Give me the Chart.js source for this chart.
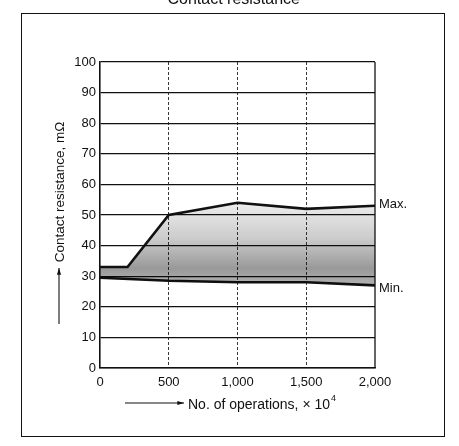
<!DOCTYPE html>
<html>
<head>
<meta charset="utf-8">
<script src="https://cdn.jsdelivr.net/npm/chart.js@4/dist/chart.umd.min.js"></script>
<style>
  html, body { margin: 0; padding: 0; background: #fff; }
  canvas { display: block; }
</style>
</head>
<body>
<canvas id="resistance-chart" width="459" height="446"></canvas>
<script>
// Contact resistance vs. number of operations (x 10^4)
const maxOperations = [0, 200, 500, 1000, 1500, 2000];
const maxResistance = [33, 33, 50, 54, 52, 53];
const minOperations = [0, 500, 1000, 1500, 2000];
const minResistance = [29.5, 28.5, 28, 28, 27];
const seriesLabels = ['Max.', 'Min.'];
const yTicks = [0, 10, 20, 30, 40, 50, 60, 70, 80, 90, 100];
const xTicks = [0, 500, 1000, 1500, 2000];

const FONT = '"Liberation Sans", Arial, Helvetica, sans-serif';
const INK = '#111';

function toPoints(xs, ys) {
    return xs.map((x, i) => ({ x: x, y: ys[i] }));
}

// stippled band between the two curves, darker towards the bottom
function bandFill(context) {
    const chart = context.chart;
    if (!chart.chartArea) return 'rgba(0,0,0,0.25)';
    const y = chart.scales.y;
    const g = chart.ctx.createLinearGradient(0, y.getPixelForValue(55), 0, y.getPixelForValue(27));
    g.addColorStop(0, 'rgba(0,0,0,0.06)');
    g.addColorStop(0.45, 'rgba(0,0,0,0.20)');
    g.addColorStop(0.8, 'rgba(0,0,0,0.40)');
    g.addColorStop(1, 'rgba(0,0,0,0.30)');
    return g;
}

function arrow(ctx, x1, y1, x2, y2) {
    const a = Math.atan2(y2 - y1, x2 - x1);
    ctx.beginPath();
    ctx.moveTo(x1, y1);
    ctx.lineTo(x2, y2);
    ctx.stroke();
    ctx.beginPath();
    ctx.moveTo(x2, y2);
    ctx.lineTo(x2 - 7 * Math.cos(a - 0.3), y2 - 7 * Math.sin(a - 0.3));
    ctx.lineTo(x2 - 7 * Math.cos(a + 0.3), y2 - 7 * Math.sin(a + 0.3));
    ctx.closePath();
    ctx.fill();
}

const decorations = {
    id: 'decorations',
    afterDraw(chart) {
        const ctx = chart.ctx;
        const area = chart.chartArea;
        ctx.save();
        ctx.strokeStyle = INK;
        ctx.fillStyle = INK;

        // outer frame of the figure
        ctx.lineWidth = 1;
        ctx.strokeRect(21.5, 13.5, 423, 423);

        // clipped caption at the very top
        ctx.font = '16px ' + FONT;
        ctx.textAlign = 'right';
        ctx.textBaseline = 'alphabetic';
        ctx.fillText('Contact resistance', 300, 4);

        // right edge of plot
        ctx.lineWidth = 1.3;
        ctx.beginPath();
        ctx.moveTo(area.right, area.top);
        ctx.lineTo(area.right, area.bottom);
        ctx.stroke();

        // y axis title with arrow
        ctx.save();
        ctx.translate(60, 192);
        ctx.rotate(-Math.PI / 2);
        ctx.font = '13.5px ' + FONT;
        ctx.textAlign = 'center';
        ctx.textBaseline = 'middle';
        ctx.fillText('Contact resistance, m\u03a9', 0, 0);
        ctx.restore();
        ctx.lineWidth = 1.1;
        arrow(ctx, 59, 324, 59, 268);

        // x axis title with arrow
        arrow(ctx, 125, 403, 184, 403);
        ctx.font = '14px ' + FONT;
        ctx.textAlign = 'left';
        ctx.textBaseline = 'middle';
        const xTitle = 'No. of operations, \u00d7 10';
        ctx.fillText(xTitle, 188, 405);
        const w = ctx.measureText(xTitle).width;
        ctx.font = '9px ' + FONT;
        ctx.fillText('4', 188 + w + 1, 399);

        // series labels at the line ends
        ctx.font = '13px ' + FONT;
        ctx.textBaseline = 'middle';
        chart.data.datasets.forEach((ds, i) => {
            const pts = chart.getDatasetMeta(i).data;
            const last = pts[pts.length - 1];
            ctx.fillText(ds.label, last.x + 4, last.y + (i === 0 ? -1 : 3));
        });
        ctx.restore();
    }
};

new Chart(document.getElementById('resistance-chart'), {
    type: 'line',
    data: {
        datasets: [{
            label: seriesLabels[0],
            data: toPoints(maxOperations, maxResistance),
            borderColor: INK,
            borderWidth: 2.6,
            pointRadius: 0,
            tension: 0,
            fill: { target: 1 },
            backgroundColor: bandFill
        }, {
            label: seriesLabels[1],
            data: toPoints(minOperations, minResistance),
            borderColor: INK,
            borderWidth: 2.6,
            pointRadius: 0,
            tension: 0,
            fill: false
        }]
    },
    options: {
        responsive: false,
        animation: false,
        locale: 'en-US',
        layout: { padding: { left: 0, right: 84, top: 62, bottom: 0 } },
        plugins: {
            legend: { display: false },
            tooltip: { enabled: false }
        },
        scales: {
            x: {
                type: 'linear',
                min: 0,
                max: 2000,
                afterFit: scale => { scale.height = 78; },
                afterBuildTicks: scale => { scale.ticks = xTicks.map(v => ({ value: v })); },
                ticks: {
                    color: INK,
                    padding: 7,
                    maxRotation: 0,
                    font: { family: FONT, size: 13 }
                },
                grid: {
                    drawTicks: false,
                    lineWidth: 0.9,
                    color: c => (c.tick && (c.tick.value === 0 || c.tick.value === 2000)) ? 'rgba(0,0,0,0)' : '#222'
                },
                border: { display: true, color: INK, width: 1.6, dash: [3, 2] }
            },
            y: {
                min: 0,
                max: 100,
                afterFit: scale => { scale.width = 100; },
                afterBuildTicks: scale => { scale.ticks = yTicks.map(v => ({ value: v })); },
                ticks: {
                    color: INK,
                    padding: 4,
                    font: { family: FONT, size: 13 }
                },
                grid: {
                    drawTicks: false,
                    lineWidth: 1.3,
                    color: INK
                },
                border: { display: true, color: INK, width: 1.6 }
            }
        }
    },
    plugins: [decorations]
});
</script>
</body>
</html>
